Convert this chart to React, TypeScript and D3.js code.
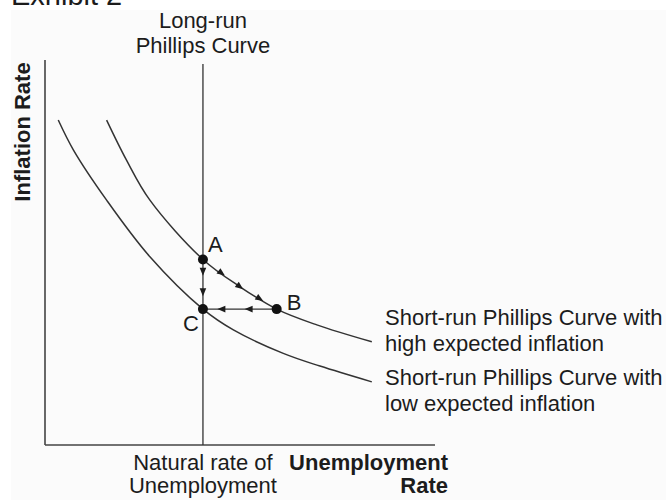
import React from "react";
import * as d3 from "d3";

// Data (unemployment rate on x, inflation rate on y, arbitrary units 0..10)
const naturalRate = 4.05;
const lowSRPC: [number, number][] = [
  [0.34, 8.44], [0.73, 7.66], [1.58, 6.36], [2.69, 4.89], [4.05, 3.53],
  [4.83, 2.99], [6.11, 2.38], [7.05, 2.05], [8.38, 1.64],
];
const highSRPC: [number, number][] = [
  [1.58, 8.44], [2.09, 7.4], [2.69, 6.36], [4.05, 4.82], [5.0, 4.11],
  [5.94, 3.53], [6.97, 3.12], [8.38, 2.68],
];
const points = [
  { name: "A", x: 4.05, y: 4.82 },
  { name: "B", x: 5.94, y: 3.53 },
  { name: "C", x: 4.05, y: 3.53 },
];
// arrowheads along the A→C, A→B (x positions on the high curve) and B→C moves
const arrowsAC = [0.25, 0.66];
const arrowsAB = [4.53, 5.0, 5.51];
const arrowsBC = [0.38, 0.75];
const lrpcLabel = ["Long-run", "Phillips Curve"];
const highLabel = ["Short-run Phillips Curve with", "high expected inflation"];
const lowLabel = ["Short-run Phillips Curve with", "low expected inflation"];
const naturalLabel = ["Natural rate of", "Unemployment"];
const xTitle = ["Unemployment", "Rate"];
const yTitle = "Inflation Rate";
const title = "Exhibit 2";

const W = 666;
const H = 500;
const FONT = "'Liberation Sans', Arial, Helvetica, sans-serif";
const INK = "#1c1c1c";

export default function App() {
  const x = d3.scaleLinear().domain([0, 10]).range([45, 435]);
  const y = d3.scaleLinear().domain([0, 10]).range([445, 60]);
  const line = d3
    .line<[number, number]>()
    .x((d) => x(d[0]))
    .y((d) => y(d[1]))
    .curve(d3.curveCatmullRom.alpha(0.5));

  const P = Object.fromEntries(points.map((p) => [p.name, p]));
  const A = P["A"], B = P["B"], C = P["C"];

  const interpHigh = (xv: number) => {
    for (let i = 0; i < highSRPC.length - 1; i++) {
      const [x0, y0] = highSRPC[i];
      const [x1, y1] = highSRPC[i + 1];
      if (xv >= x0 && xv <= x1) {
        const t = (xv - x0) / (x1 - x0);
        return { y: y0 + t * (y1 - y0), slopePx: (y(y1) - y(y0)) / (x(x1) - x(x0)) };
      }
    }
    return { y: 0, slopePx: 0 };
  };

  const arrow = (px: number, py: number, angle: number, key: string) => {
    const L = 8, hw = 3.3;
    const pts = [
      [L / 2, 0],
      [-L / 2, -hw],
      [-L / 2, hw],
    ]
      .map(([ax, ay]) => {
        const c = Math.cos(angle), s = Math.sin(angle);
        return `${px + ax * c - ay * s},${py + ax * s + ay * c}`;
      })
      .join(" ");
    return <polygon key={key} points={pts} fill={INK} />;
  };

  const arrowEls: React.ReactNode[] = [];
  arrowsAC.forEach((t, i) => {
    const py = y(A.y) + t * (y(C.y) - y(A.y));
    arrowEls.push(arrow(x(A.x), py, Math.PI / 2, "ac" + i));
  });
  arrowsAB.forEach((xv, i) => {
    const r = interpHigh(xv);
    arrowEls.push(arrow(x(xv), y(r.y), Math.atan(r.slopePx), "ab" + i));
  });
  arrowsBC.forEach((t, i) => {
    const px = x(B.x) + t * (x(C.x) - x(B.x));
    arrowEls.push(arrow(px, y(B.y), Math.PI, "bc" + i));
  });

  const fs = 22;
  return (
    <svg
      width={W}
      height={H}
      style={{ position: "absolute", left: 0, top: 0, display: "block", background: "#fff" }}
      fontFamily={FONT}
    >
      <rect x={11} y={10} width={W - 11} height={H - 10} fill="#fbfbfb" />
      <text x={11} y={5} fontSize={29} fill={INK}>{title}</text>

      {/* axes */}
      <line x1={x(0)} x2={x(0)} y1={y(10)} y2={y(0)} stroke="#444" strokeWidth={1.6} />
      <line x1={x(0)} x2={x(10)} y1={y(0)} y2={y(0)} stroke="#444" strokeWidth={1.6} />

      {/* long-run Phillips curve */}
      <line x1={x(naturalRate)} x2={x(naturalRate)} y1={64} y2={y(0)} stroke="#333" strokeWidth={1.3} />

      {/* short-run curves */}
      <path d={line(lowSRPC) || ""} fill="none" stroke="#333" strokeWidth={1.5} />
      <path d={line(highSRPC) || ""} fill="none" stroke="#333" strokeWidth={1.5} />

      {/* B -> C */}
      <line x1={x(B.x)} x2={x(C.x)} y1={y(B.y)} y2={y(C.y)} stroke="#333" strokeWidth={1.3} />
      {arrowEls}
      {points.map((p) => (
        <circle key={p.name} cx={x(p.x)} cy={y(p.y)} r={5} fill="#111" />
      ))}

      {/* point labels */}
      <text x={x(A.x) + 5} y={y(A.y) - 7} fontSize={fs} fill={INK}>A</text>
      <text x={x(B.x) + 10} y={y(B.y) + 1} fontSize={fs} fill={INK}>B</text>
      <text x={x(C.x) - 20} y={y(C.y) + 22} fontSize={fs} fill={INK}>C</text>

      {/* LRPC label */}
      <text x={x(naturalRate)} y={28} fontSize={fs} textAnchor="middle" fill={INK}>{lrpcLabel[0]}</text>
      <text x={x(naturalRate)} y={53} fontSize={fs} textAnchor="middle" fill={INK}>{lrpcLabel[1]}</text>

      {/* SRPC labels */}
      <text x={385} y={325} fontSize={fs} fill={INK}>{highLabel[0]}</text>
      <text x={385} y={351} fontSize={fs} fill={INK}>{highLabel[1]}</text>
      <text x={385} y={385} fontSize={fs} fill={INK}>{lowLabel[0]}</text>
      <text x={385} y={411} fontSize={fs} fill={INK}>{lowLabel[1]}</text>

      {/* natural rate label */}
      <text x={x(naturalRate)} y={470} fontSize={fs} textAnchor="middle" fill={INK}>{naturalLabel[0]}</text>
      <text x={x(naturalRate)} y={493} fontSize={fs} textAnchor="middle" fill={INK}>{naturalLabel[1]}</text>

      {/* axis titles */}
      <text x={448} y={470} fontSize={fs} fontWeight="bold" textAnchor="end" fill={INK}>{xTitle[0]}</text>
      <text x={448} y={493} fontSize={fs} fontWeight="bold" textAnchor="end" fill={INK}>{xTitle[1]}</text>
      <text
        transform="translate(30,132) rotate(-90)"
        fontSize={fs}
        fontWeight="bold"
        textAnchor="middle"
        fill={INK}
      >
        {yTitle}
      </text>
    </svg>
  );
}
